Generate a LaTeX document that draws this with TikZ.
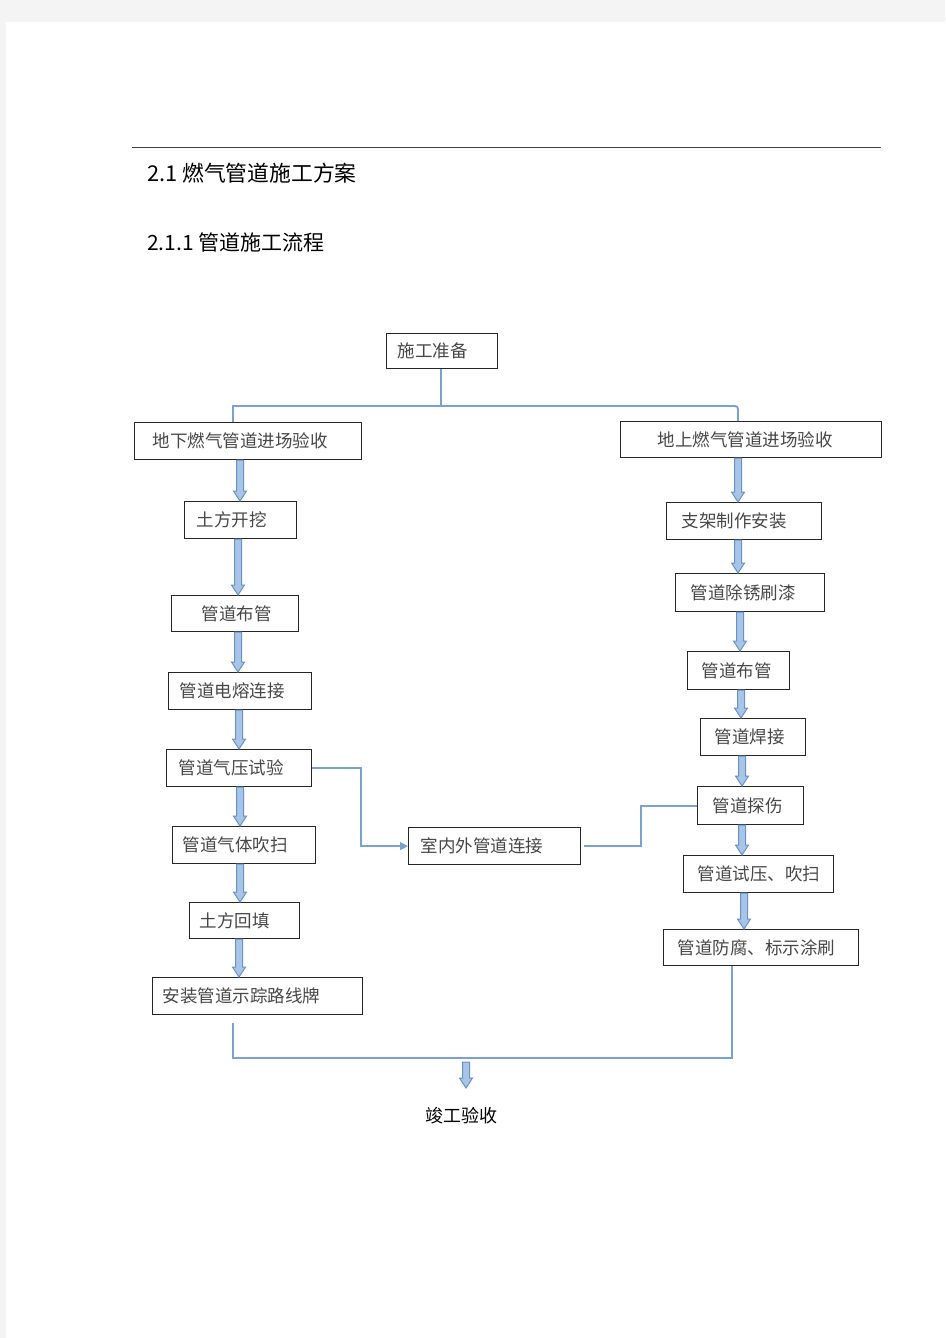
\documentclass[tikz,border=0pt]{standalone}
\usepackage{fontspec}
\newfontfamily\cjk{Noto Sans CJK SC}
\usetikzlibrary{arrows.meta,calc}
\definecolor{connblue}{RGB}{122,162,207}
\definecolor{baline}{RGB}{104,146,198}
\definecolor{bafill}{RGB}{168,197,231}
\definecolor{pagegray}{RGB}{244,244,244}
\newcommand\bxnode[7]{%
  \pgfmathsetmacro\bxtw{#4-#2-2}%
  \pgfmathsetmacro\bxh{#5-#3}%
  \pgfmathsetmacro\bxpad{#6-1}%
  \node[box, text width=\bxtw bp, minimum height=\bxh bp, anchor=north west] (#1) at (#2,#3) {\hspace*{\bxpad bp}#7};}
\newcommand\barr[3]{%
  \path[blockarrow] let \p1=(#2), \p2=(#3) in
    (#1bp-3.5bp,\y1) -- (#1bp-3.5bp,\y2+10bp) -- (#1bp-6.5bp,\y2+10bp) -- (#1bp,\y2)
    -- (#1bp+6.5bp,\y2+10bp) -- (#1bp+3.5bp,\y2+10bp) -- (#1bp+3.5bp,\y1) -- cycle;}
\begin{document}
\begin{tikzpicture}[x=1bp,y=-1bp,
  box/.style={draw=black!85, line width=1.2bp, inner xsep=1bp, inner ysep=0pt, align=left,
    text=black!72, font=\cjk\fontsize{17.5bp}{20bp}\selectfont},
  conn/.style={draw=connblue, line width=1.8bp},
  tip/.style={-{Triangle[length=8bp,width=8bp]}},
  blockarrow/.style={fill=bafill, draw=baline, line width=1bp, line join=miter},
  heading/.style={anchor=west, inner sep=0pt, text=black}]
\useasboundingbox (0,0) rectangle (945,1338);
\fill[pagegray] (0,0) rectangle (945,1338);
\fill[white] (6,22) rectangle (945,1338);
\draw[black!75, line width=1bp] (132,148) -- (881,148);
\node[heading, font=\cjk\fontsize{21.8bp}{24bp}\selectfont] (h1) at (147,173) {2.1 燃气管道施工方案};
\node[heading, font=\cjk\fontsize{21bp}{24bp}\selectfont] (h2) at (147,242) {2.1.1 管道施工流程};
% boxes
\bxnode{S0}{386}{333}{497}{368}{11}{施工准备}
\bxnode{L0}{134}{422}{361}{459}{18}{地下燃气管道进场验收}
\bxnode{R0}{620}{421}{881}{457}{37}{地上燃气管道进场验收}
\bxnode{L1}{184}{501}{296}{538}{12}{土方开挖}
\bxnode{R1}{666}{502}{821}{539}{15}{支架制作安装}
\bxnode{L2}{171}{595}{298}{631}{30}{管道布管}
\bxnode{R2}{675}{573}{824}{611}{15}{管道除锈刷漆}
\bxnode{L3}{168}{672}{311}{709}{11}{管道电熔连接}
\bxnode{R3}{687}{651}{789}{689}{14}{管道布管}
\bxnode{R4}{700}{718}{805}{755}{14}{管道焊接}
\bxnode{L4}{166}{749}{311}{786}{12}{管道气压试验}
\bxnode{R5}{697}{786}{803}{824}{15}{管道探伤}
\bxnode{L5}{172}{826}{315}{863}{10}{管道气体吹扫}
\bxnode{M}{408}{827}{580}{864}{12}{室内外管道连接}
\bxnode{R6}{683}{855}{833}{892}{14}{管道试压、吹扫}
\bxnode{L6}{189}{902}{299}{938}{10}{土方回填}
\bxnode{R7}{663}{929}{858}{965}{14}{管道防腐、标示涂刷}
\bxnode{L7}{152}{977}{362}{1014}{10}{安装管道示踪路线牌}
\node[inner sep=0pt, text=black, font=\cjk\fontsize{18bp}{20bp}\selectfont] (E) at (461,1116) {竣工验收};
% top split
\coordinate (j) at (441,406);
\coordinate (jl) at (233,406);
\coordinate (jr) at (738,406);
\draw[conn] (S0.south -| j) -- (j);
\draw[conn] (jl |- L0.north) -- (jl) -- (j);
\draw[conn, rounded corners=3bp] (j) -- (jr) -- (jr |- R0.north);
% side connections
\coordinate (k1) at (361,800);
\coordinate (k2) at (641,820);
\draw[conn, tip] (L4.east) -- (L4.east -| k1) -- (k1 |- M.west) -- (M.west);
\draw[conn] ($(M.east)+(3,0)$) -- (M.east -| k2) -- (k2 |- R5.west) -- (R5.west);
% bottom merge
\coordinate (b1) at (233,1058);
\coordinate (b2) at (732,1058);
\draw[conn] ($(L7.south -| b1)+(0,8)$) -- (b1) -- (b2) -- (R7.south -| b2);
\coordinate (c1) at (466,1062);
\coordinate (c2) at (466,1088);
% block arrows
\barr{240}{L0.south -| 240,0}{L1.north -| 240,0}
\barr{238}{L1.south -| 238,0}{L2.north -| 238,0}
\barr{238}{L2.south -| 238,0}{L3.north -| 238,0}
\barr{239}{L3.south -| 239,0}{L4.north -| 239,0}
\barr{240}{L4.south -| 240,0}{L5.north -| 240,0}
\barr{240}{L5.south -| 240,0}{L6.north -| 240,0}
\barr{239}{L6.south -| 239,0}{L7.north -| 239,0}
\barr{738}{R0.south -| 738,0}{R1.north -| 738,0}
\barr{738}{R1.south -| 738,0}{R2.north -| 738,0}
\barr{740}{R2.south -| 740,0}{R3.north -| 740,0}
\barr{741}{R3.south -| 741,0}{R4.north -| 741,0}
\barr{742}{R4.south -| 742,0}{R5.north -| 742,0}
\barr{742}{R5.south -| 742,0}{R6.north -| 742,0}
\barr{744}{R6.south -| 744,0}{R7.north -| 744,0}
\barr{466}{c1}{c2}
\end{tikzpicture}
\end{document}
